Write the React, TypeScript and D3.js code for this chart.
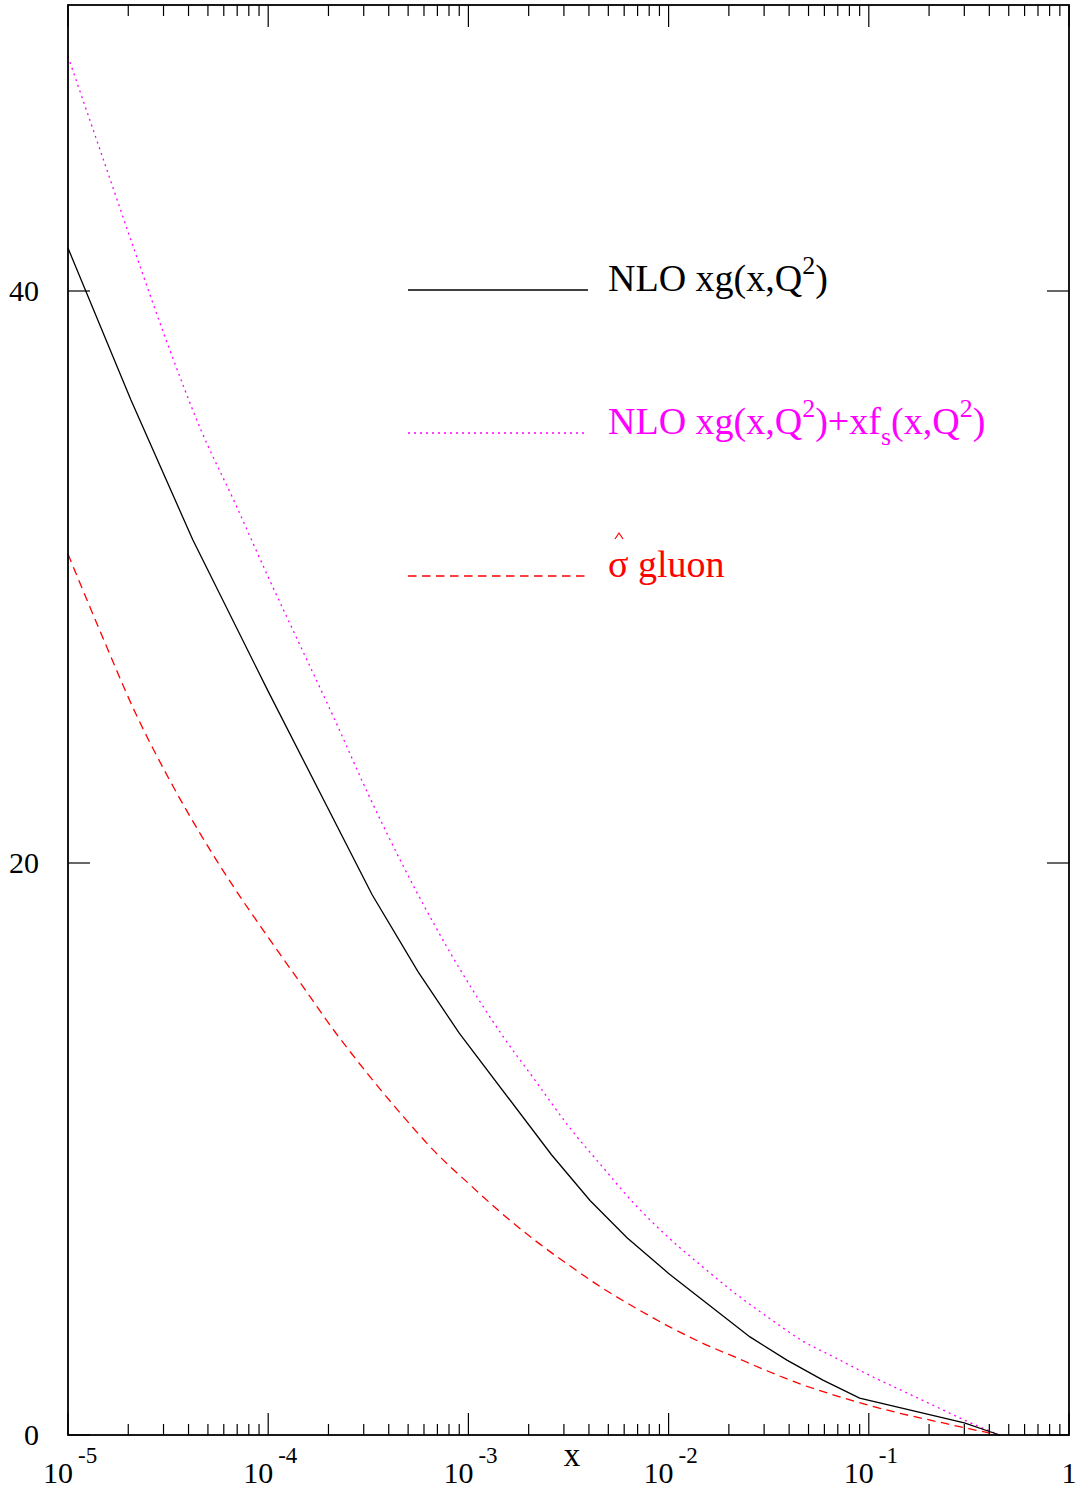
import React, { useEffect, useRef } from 'react'
import * as d3 from 'd3'

// the two smooth curves were read on a 1/6 decade grid
const gridX = [
  1e-5, 1.468e-5, 2.154e-5, 3.162e-5, 4.642e-5, 6.813e-5,
  1e-4, 1.468e-4, 2.154e-4, 3.162e-4, 4.642e-4, 6.813e-4,
  1e-3, 1.468e-3, 2.154e-3, 3.162e-3, 4.642e-3, 6.813e-3,
  1e-2, 1.468e-2, 2.154e-2, 3.162e-2, 4.642e-2, 6.813e-2,
  0.1, 0.1468, 0.2154, 0.3162, 0.45
]
const xgSumY = [48.2, 44.8, 41.4, 38.1, 35.1, 32.6, 30.0, 27.5, 25.0, 22.4, 20.0, 17.8, 15.8, 14.0, 12.4, 10.8, 9.4, 8.05, 6.9, 5.9, 4.95, 4.1, 3.3, 2.7, 2.1, 1.55, 1.0, 0.45, 0]
const sigmaY = [30.8, 28.0, 25.3, 23.0, 20.95, 19.1, 17.4, 15.75, 14.1, 12.6, 11.2, 9.9, 8.8, 7.75, 6.8, 5.95, 5.15, 4.45, 3.8, 3.22, 2.72, 2.22, 1.76, 1.38, 1.04, 0.74, 0.48, 0.22, 0]

// xg is a polyline in the original, these are its kinks
const xgX = [1e-5, 2.06e-5, 4.2e-5, 1e-4, 3.3e-4, 5.6e-4, 9e-4, 2.6e-3, 4.05e-3, 6.2e-3, 1e-2, 2.55e-2, 3.9e-2, 5.9e-2, 9e-2, 0.3, 0.45]
const xgY = [41.5, 36.2, 31.3, 26.0, 18.9, 16.2, 14.05, 9.8, 8.2, 6.9, 5.65, 3.43, 2.62, 1.92, 1.29, 0.42, 0]

const yTicks = [0, 20, 40]
const decades = [-5, -4, -3, -2, -1, 0]
const minorMult = [2, 3, 4, 5, 6, 7, 8, 9]

const W = 1080
const H = 1492
const FONT = '"Liberation Serif", "Times New Roman", serif'

export default function App () {
  const ref = useRef<SVGSVGElement>(null)

  useEffect(() => {
    const svg = d3.select(ref.current)
    svg.selectAll('*').remove()

    const left = 68
    const right = 1069
    const top = 5
    const bottom = 1435

    const x = d3.scaleLog().domain([1e-5, 1]).range([left, right])
    const y = d3.scaleLinear().domain([0, 50]).range([bottom, top])

    const g = svg.append('g')

    // curves
    const smooth = d3.line<number>()
      .x((d, i) => x(gridX[i]))
      .y(d => y(d))
      .curve(d3.curveMonotoneX)

    g.append('path')
      .attr('d', smooth(xgSumY))
      .style('fill', 'none').style('stroke', '#ff00ff').style('stroke-width', '1.3px')
      .style('stroke-dasharray', '2 4')

    g.append('path')
      .attr('d', smooth(sigmaY))
      .style('fill', 'none').style('stroke', '#ff0000').style('stroke-width', '1.3px')
      .style('stroke-dasharray', '8.5 5.5')

    const poly = d3.line<number>()
      .x((d, i) => x(xgX[i]))
      .y(d => y(d))

    g.append('path')
      .attr('d', poly(xgY))
      .style('fill', 'none').style('stroke', '#000').style('stroke-width', '1.3px')

    // frame
    g.append('rect')
      .attr('x', left).attr('y', top)
      .attr('width', right - left).attr('height', bottom - top)
      .style('fill', 'none').style('stroke', '#000').style('stroke-width', '1.8px')

    // x ticks, top and bottom, pointing inwards
    let xt: { v: number, len: number }[] = []
    decades.forEach(d => {
      xt.push({ v: Math.pow(10, d), len: 22 })
      if (d < 0) minorMult.forEach(m => xt.push({ v: m * Math.pow(10, d), len: 11 }))
    })
    xt.forEach(t => {
      g.append('line')
        .attr('x1', x(t.v)).attr('x2', x(t.v))
        .attr('y1', bottom).attr('y2', bottom - t.len)
        .style('stroke', '#000').style('stroke-width', '1.2px')
      g.append('line')
        .attr('x1', x(t.v)).attr('x2', x(t.v))
        .attr('y1', top).attr('y2', top + t.len)
        .style('stroke', '#000').style('stroke-width', '1.2px')
    })

    // y ticks, left and right
    yTicks.forEach(v => {
      g.append('line')
        .attr('x1', left).attr('x2', left + 22)
        .attr('y1', y(v)).attr('y2', y(v))
        .style('stroke', '#000').style('stroke-width', '1.2px')
      g.append('line')
        .attr('x1', right).attr('x2', right - 22)
        .attr('y1', y(v)).attr('y2', y(v))
        .style('stroke', '#000').style('stroke-width', '1.2px')
      g.append('text')
        .attr('x', 39).attr('y', y(v) + 10)
        .attr('text-anchor', 'end')
        .style('font-family', FONT).style('font-size', '30px')
        .text(v)
    })

    // x tick labels, 10 with a raised exponent
    decades.forEach(d => {
      const px = x(Math.pow(10, d))
      if (d === 0) {
        g.append('text')
          .attr('x', px).attr('y', 1483)
          .attr('text-anchor', 'middle')
          .style('font-family', FONT).style('font-size', '30px')
          .text('1')
        return
      }
      g.append('text')
        .attr('x', px - 25).attr('y', 1483)
        .style('font-family', FONT).style('font-size', '30px')
        .text('10')
      g.append('text')
        .attr('x', px + 10).attr('y', 1463)
        .style('font-family', FONT).style('font-size', '23px')
        .text(String(d))
    })

    g.append('text')
      .attr('x', 572).attr('y', 1466)
      .attr('text-anchor', 'middle')
      .style('font-family', FONT).style('font-size', '33px')
      .text('x')

    // legend
    const lx1 = 408
    const lx2 = 588
    const tx = 608
    const fs = '38px'
    const ss = '26px'

    g.append('line')
      .attr('x1', lx1).attr('x2', lx2).attr('y1', 290).attr('y2', 290)
      .style('stroke', '#000').style('stroke-width', '1.3px')
    let t1 = g.append('text')
      .attr('x', tx).attr('y', 291)
      .style('font-family', FONT).style('font-size', fs).style('fill', '#000')
    t1.append('tspan').text('NLO xg(x,Q')
    t1.append('tspan').attr('dy', -17).style('font-size', ss).text('2')
    t1.append('tspan').attr('dy', 17).text(')')

    g.append('line')
      .attr('x1', lx1).attr('x2', lx2).attr('y1', 433).attr('y2', 433)
      .style('stroke', '#ff00ff').style('stroke-width', '1.3px')
      .style('stroke-dasharray', '2 4')
    let t2 = g.append('text')
      .attr('x', tx).attr('y', 434)
      .style('font-family', FONT).style('font-size', fs).style('fill', '#ff00ff')
    t2.append('tspan').text('NLO xg(x,Q')
    t2.append('tspan').attr('dy', -17).style('font-size', ss).text('2')
    t2.append('tspan').attr('dy', 17).text(')+xf')
    t2.append('tspan').attr('dy', 11).style('font-size', ss).text('s')
    t2.append('tspan').attr('dy', -11).text('(x,Q')
    t2.append('tspan').attr('dy', -17).style('font-size', ss).text('2')
    t2.append('tspan').attr('dy', 17).text(')')

    g.append('line')
      .attr('x1', lx1).attr('x2', lx2).attr('y1', 576).attr('y2', 576)
      .style('stroke', '#ff0000').style('stroke-width', '1.3px')
      .style('stroke-dasharray', '8.5 5.5')
    g.append('text')
      .attr('x', tx).attr('y', 577)
      .style('font-family', FONT).style('font-size', fs).style('fill', '#ff0000')
      .text('σ gluon')
    // hat over the sigma
    g.append('path')
      .attr('d', 'M615,539 L619,533 L623,539')
      .style('fill', 'none').style('stroke', '#ff0000').style('stroke-width', '1.2px')
  }, [])

  return (
    <svg ref={ref} width={W} height={H}
      style={{ position: 'absolute', left: 0, top: 0, background: '#fff' }} />
  )
}
